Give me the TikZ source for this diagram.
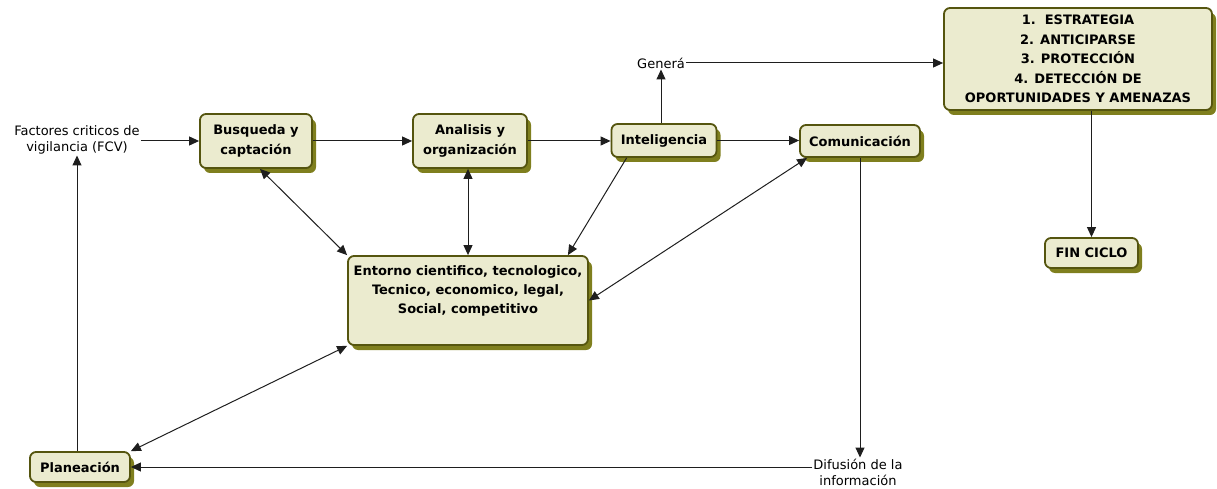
\documentclass[tikz,border=0pt]{standalone}
\usepackage{fontspec}
\setmainfont{DejaVu Sans}
\usetikzlibrary{arrows.meta,shadows}
\definecolor{boxfill}{HTML}{EBEBCF}
\definecolor{boxline}{HTML}{55550F}
\definecolor{boxshadow}{HTML}{7F7F1E}
\definecolor{wire}{HTML}{1E1E1E}
\begin{document}
\begin{tikzpicture}[x=1pt,y=-1pt,
  stage/.style={draw=boxline, line width=1.8pt, fill=boxfill, rounded corners=6pt,
    font=\bfseries\fontsize{13}{19.5}\selectfont, align=center, inner sep=0pt,
    drop shadow={shadow xshift=4pt, shadow yshift=-5pt, fill=boxshadow, opacity=1}},
  note/.style={font=\fontsize{13}{16}\selectfont, align=center, inner sep=1pt},
  tip/.tip={Triangle[length=10pt,width=9pt]},
  arr/.style={draw=wire, line width=1pt, -tip},
  biarr/.style={draw=wire, line width=1pt, tip-tip},
]
\useasboundingbox (0,0) rectangle (1217,489);

% process boxes
\node[stage, minimum width=112pt, minimum height=54pt] (busq) at (256,141) {Busqueda y\\captación};
\node[stage, minimum width=114pt, minimum height=54pt] (anal) at (470,141) {Analisis y\\organización};
\node[stage, minimum width=105pt, minimum height=33pt] (intel) at (664,140.5) {Inteligencia};
\node[stage, minimum width=120pt, minimum height=32pt] (comun) at (860,141) {Comunicación};
\node[stage, minimum width=240pt, minimum height=89pt] (entorno) at (468,300.5) {};
\node[font=\bfseries\fontsize{13}{19}\selectfont, align=center, inner sep=0pt] (entornotext) at (468,291)
  {Entorno cientifico, tecnologico,\\Tecnico, economico, legal,\\Social, competitivo};
\node[stage, minimum width=268pt, minimum height=102pt] (estr) at (1078,59)
  {1.\ \ ESTRATEGIA\\2. ANTICIPARSE\\3. PROTECCIÓN\\4. DETECCIÓN DE\\OPORTUNIDADES Y AMENAZAS};
\node[stage, minimum width=93pt, minimum height=30pt] (fin) at (1091.5,253) {FIN CICLO};
\node[stage, minimum width=100pt, minimum height=30pt] (plan) at (80,467) {Planeación};

% free labels
\node[note] (fcv) at (77,140) {Factores criticos de\\vigilancia (FCV)};
\node[note] (genera) at (661,63) {Generá};
\node[note] (difusion) at (858,472) {Difusión de la\\información};

% connectors
\draw[arr] (fcv.east |- busq) -- (busq.west);
\draw[arr] (busq.east) -- (anal.west);
\draw[arr] (anal.east) -- (intel.west |- anal.east);
\draw[arr] (intel.east) -- (comun.west |- intel.east);
\draw[arr] (intel.north -| genera.south) -- (genera.south);
\draw[arr] (genera.east) -- (genera.east -| estr.west);
\draw[arr] (fin.north |- estr.south) -- (fin.north);
\draw[biarr] ([xshift=4pt]busq.south) -- (entorno.north west);
\draw[biarr] (anal.south -| entornotext.north) -- (entorno.north);
\draw[arr] ([xshift=16pt]intel.south west) -- ([xshift=-21pt]entorno.north east);
\draw[biarr] ([xshift=8pt]comun.south west) -- (entorno.east);
\draw[arr] (comun.south) -- (comun.south |- difusion.north);
\draw[arr] (difusion.west |- plan.east) -- (plan.east);
\draw[arr] (plan.north -| fcv.south) -- (fcv.south);
\draw[biarr] (entorno.south west) -- (plan.north east);
\end{tikzpicture}
\end{document}
